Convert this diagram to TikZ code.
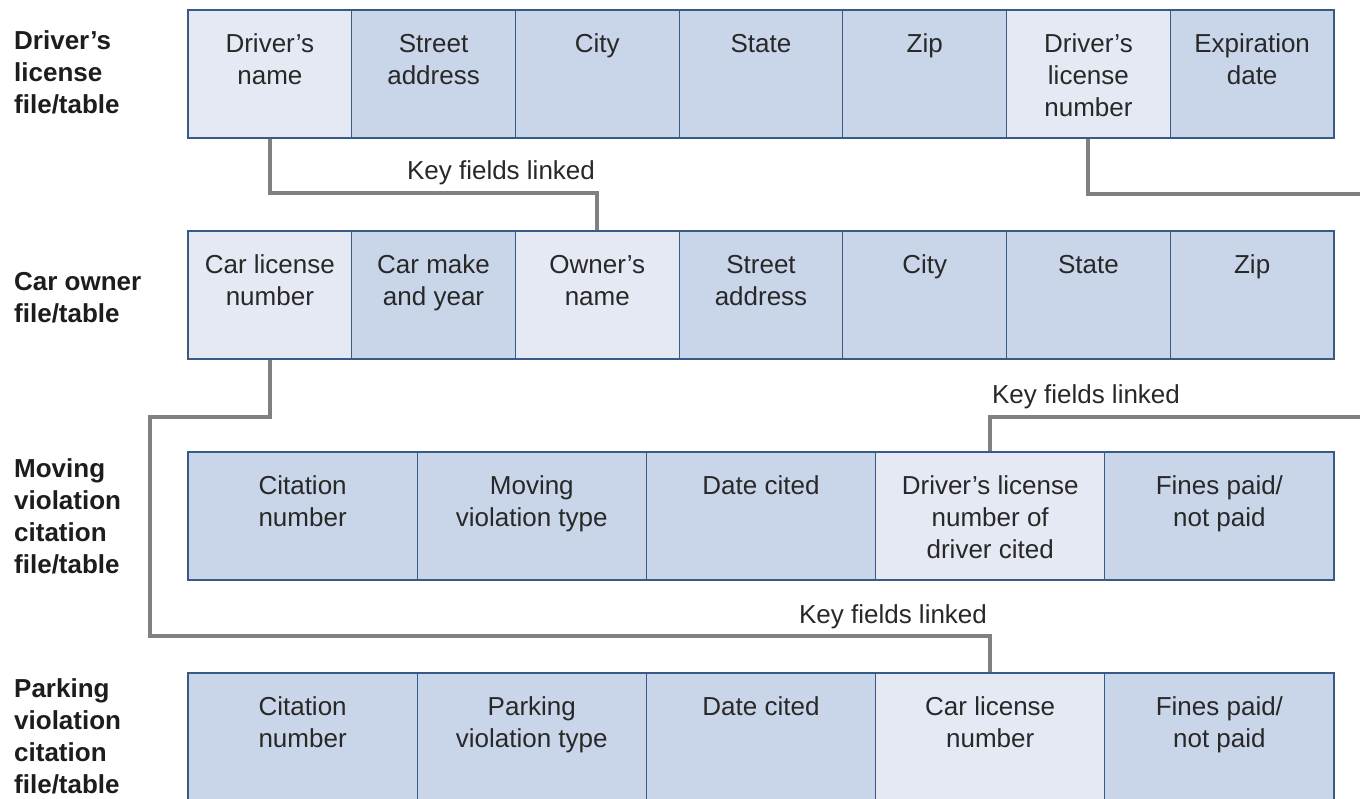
\documentclass[tikz,border=0pt]{standalone}
\usepackage{fontspec}
\setmainfont{Liberation Sans}
\definecolor{cdark}{RGB}{201,214,233}
\definecolor{clight}{RGB}{228,233,244}
\definecolor{bordc}{RGB}{55,90,135}
\definecolor{linkc}{RGB}{128,128,128}
\definecolor{textc}{RGB}{40,40,40}
\definecolor{headc}{RGB}{30,28,30}
\newcommand{\fs}{\rule{0pt}{20pt}}
\newcommand{\celfont}{\fontsize{26}{32}\selectfont}
\newcommand{\hdfont}{\fontsize{26}{32}\selectfont\bfseries}
\tikzset{
  cell/.style={draw=bordc, line width=1.2pt, inner sep=0pt, minimum height=128pt, fill=cdark},
  cellA/.style={cell, minimum width=163.714pt},
  cellB/.style={cell, minimum width=229.2pt},
  keyc/.style={fill=clight},
  ctext/.style={anchor=north, inner sep=0pt, yshift=-23pt, align=center, font=\celfont, text=textc},
  head/.style={anchor=north west, inner sep=0pt, align=left, font=\hdfont, text=headc},
  link/.style={draw=linkc, line width=4pt},
  klab/.style={anchor=base, inner sep=0pt, font=\celfont, text=textc},
}
\begin{document}
\begin{tikzpicture}[x=1pt, y=-1pt]
\useasboundingbox (0,0) rectangle (1360,799);
\fill[white] (0,0) rectangle (1360,799);

% headings
\node[head] (h1) at (14,29) {\fs Driver’s\\license\\file/table};
\node[head] (h2) at (14,270) {\fs Car owner\\file/table};
\node[head] (h3) at (14,457) {\fs Moving\\violation\\citation\\file/table};
\node[head] (h4) at (14,677) {\fs Parking\\violation\\citation\\file/table};

% row 1
\node[cellA, keyc, label={[ctext]north:\fs Driver’s\\name}] (r1c1) at (269.86,74) {};
\node[cellA, label={[ctext]north:\fs Street\\address}] (r1c2) at (433.57,74) {};
\node[cellA, label={[ctext]north:\fs City}] (r1c3) at (597.29,74) {};
\node[cellA, label={[ctext]north:\fs State}] (r1c4) at (761.00,74) {};
\node[cellA, label={[ctext]north:\fs Zip}] (r1c5) at (924.71,74) {};
\node[cellA, keyc, label={[ctext]north:\fs Driver’s\\license\\number}] (r1c6) at (1088.43,74) {};
\node[cellA, label={[ctext]north:\fs Expiration\\date}] (r1c7) at (1252.14,74) {};

% row 2
\node[cellA, keyc, label={[ctext]north:\fs Car license\\number}] (r2c1) at (269.86,295) {};
\node[cellA, label={[ctext]north:\fs Car make\\and year}] (r2c2) at (433.57,295) {};
\node[cellA, keyc, label={[ctext]north:\fs Owner’s\\name}] (r2c3) at (597.29,295) {};
\node[cellA, label={[ctext]north:\fs Street\\address}] (r2c4) at (761.00,295) {};
\node[cellA, label={[ctext]north:\fs City}] (r2c5) at (924.71,295) {};
\node[cellA, label={[ctext]north:\fs State}] (r2c6) at (1088.43,295) {};
\node[cellA, label={[ctext]north:\fs Zip}] (r2c7) at (1252.14,295) {};

% row 3
\node[cellB, label={[ctext]north:\fs Citation\\number}] (r3c1) at (302.6,516) {};
\node[cellB, label={[ctext]north:\fs Moving\\violation type}] (r3c2) at (531.8,516) {};
\node[cellB, label={[ctext]north:\fs Date cited}] (r3c3) at (761.0,516) {};
\node[cellB, keyc, label={[ctext]north:\fs Driver’s license\\number of\\driver cited}] (r3c4) at (990.2,516) {};
\node[cellB, label={[ctext]north:\fs Fines paid/\\not paid}] (r3c5) at (1219.4,516) {};

% row 4
\node[cellB, label={[ctext]north:\fs Citation\\number}] (r4c1) at (302.6,737) {};
\node[cellB, label={[ctext]north:\fs Parking\\violation type}] (r4c2) at (531.8,737) {};
\node[cellB, label={[ctext]north:\fs Date cited}] (r4c3) at (761.0,737) {};
\node[cellB, keyc, label={[ctext]north:\fs Car license\\number}] (r4c4) at (990.2,737) {};
\node[cellB, label={[ctext]north:\fs Fines paid/\\not paid}] (r4c5) at (1219.4,737) {};

% connectors
\coordinate (a1) at (269.86,193);
\draw[link] (r1c1.south) -- (a1) -| (r2c3.north);
\node[klab] (k1) at (501,180) {Key fields linked};

\coordinate (e1) at (1364,194);
\coordinate (e2) at (1364,417);
\draw[link] (r1c6.south) |- (e1);
\draw[link] (e2) -| (r3c4.north);
\node[klab] (k2) at (1086,403) {Key fields linked};

\coordinate (b1) at (150,417);
\coordinate (b2) at (150,636);
\draw[link] (r2c1.south) |- (b1) -- (b2) -| (r4c4.north);
\node[klab] (k3) at (893,623) {Key fields linked};
\end{tikzpicture}
\end{document}
